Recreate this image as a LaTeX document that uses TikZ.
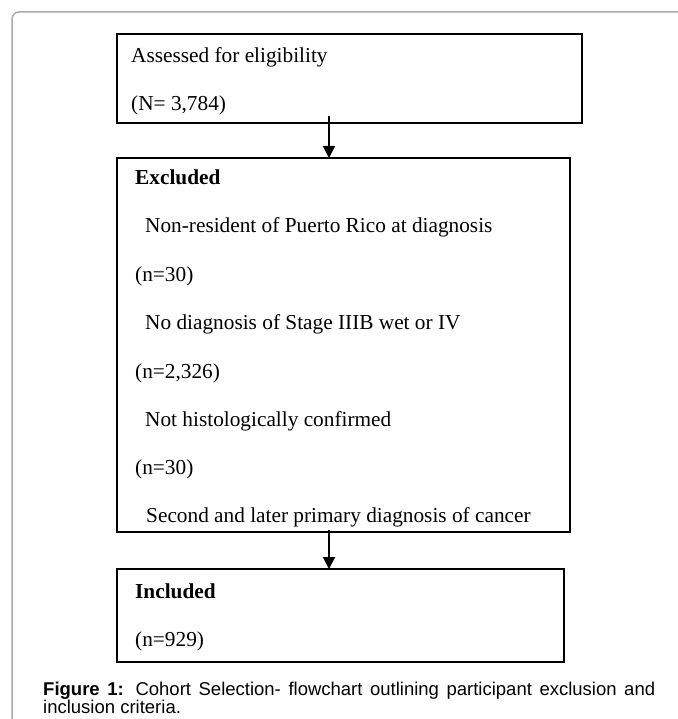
\documentclass[tikz,border=0pt]{standalone}
\usepackage{fontspec}
\setmainfont{Liberation Serif}
\newfontfamily\capfont{Liberation Sans}
\usetikzlibrary{arrows.meta}
\definecolor{framegray}{HTML}{ABABAB}
\tikzset{
  flowbox/.style={draw=black, line width=2pt, minimum width=#1, inner sep=0pt, outer sep=0pt, rectangle},
  txt/.style={anchor=base west, inner sep=0pt, font=\fontsize{21.3}{25}\selectfont},
  boldtxt/.style={txt, font=\fontsize{21.3}{25}\selectfont\bfseries},
  flowarrow/.style={line width=2pt, -{Triangle[length=12pt,width=12pt]}},
  captxt/.style={anchor=base west, inner sep=0pt, font=\capfont\fontsize{18.5}{21}\selectfont}
}
\begin{document}
\begin{tikzpicture}[x=1pt,y=1pt]
\useasboundingbox (0,0) rectangle (677,-719);
% outer frame
\draw[framegray, line width=1.5pt, rounded corners=7pt] (680,-12) -- (12,-12) -- (12,-725);
% boxes
\node[flowbox=465pt, minimum height=89pt] (b1) at (349.5,-78.5) {};
\node[flowbox=453pt, minimum height=374pt] (b2) at (343.5,-345) {};
\node[flowbox=447pt, minimum height=93pt] (b3) at (340.5,-615.5) {};
% box 1 text
\node[txt] (t1) at (131,-63) {Assessed for eligibility};
\node[txt] (t2) at (131,-111) {(N= 3,784)};
% box 2 text
\node[boldtxt] (t3) at (135,-185) {Excluded};
\node[txt] (t4) at (145,-233) {Non-resident of Puerto Rico at diagnosis};
\node[txt] (t5) at (135,-281) {(n=30)};
\node[txt] (t6) at (145,-329) {No diagnosis of Stage IIIB wet or IV};
\node[txt] (t7) at (135,-378) {(n=2,326)};
\node[txt] (t8) at (145,-426) {Not histologically confirmed};
\node[txt] (t9) at (135,-474) {(n=30)};
\begin{scope}
\clip (118,-400) rectangle (569,-526.5);
\node[txt] (t10) at (146,-522.5) {Second and later primary diagnosis of cancer};
\end{scope}
% box 3 text
\node[boldtxt] (t11) at (135,-598) {Included};
\node[txt] (t12) at (135,-646) {(n=929)};
% arrows
\coordinate (a1) at (329,-116);
\coordinate (a2) at (329,-530);
\draw[flowarrow] (a1) -- (a1 |- b2.north);
\draw[flowarrow] (a2) -- (a2 |- b3.north);
% caption
\node[captxt] (c1) at (43,-695) {\makebox[612pt][s]{\textbf{Figure 1:} Cohort Selection- flowchart outlining participant exclusion and}};
\node[captxt] (c2) at (43,-713) {inclusion criteria.};
\end{tikzpicture}
\end{document}
